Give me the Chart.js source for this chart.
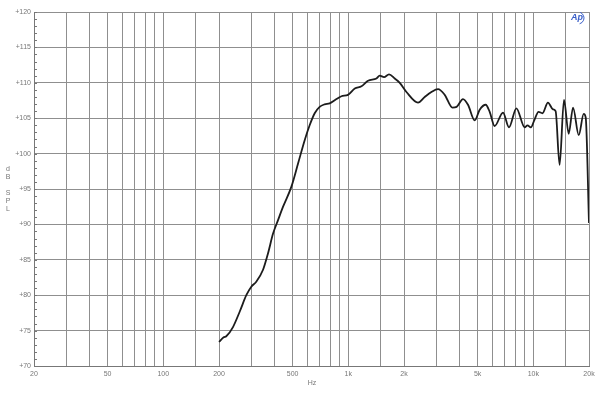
<!DOCTYPE html>
<html>
<head>
<meta charset="utf-8">
<script src="https://cdn.jsdelivr.net/npm/chart.js@4/dist/chart.umd.min.js"></script>
<style>
  body { margin: 0; background: #fff; }
  #wrap { width: 600px; height: 400px; }
</style>
</head>
<body>
<div id="wrap"><canvas id="splChart"></canvas></div>
<script>
// frequency response (Hz / dB SPL)
const freqs = [200, 212, 219, 238, 259, 281, 299, 318, 346, 368, 392, 417, 444, 492, 535, 581, 618, 658, 700, 745,
  793, 863, 918, 996, 1084, 1178, 1278, 1419, 1478, 1560, 1660, 1783, 1897, 2062, 2381, 2589, 2813, 3055, 3320,
  3655, 3850, 4168, 4436, 4822, 5130, 5530, 5810, 6180, 6860, 7390, 8100, 8980, 9300, 9700, 10120, 10670, 11200,
  12000, 12770, 13200, 13870, 14650, 15530, 16400, 17600, 18720, 19200, 20000];
const spl = [73.4, 74.05, 74.2, 75.5, 77.7, 80.0, 81.2, 81.9, 83.6, 85.9, 88.7, 90.6, 92.5, 95.3, 98.6, 101.9, 104.0, 105.7, 106.6, 106.96,
  107.1, 107.7, 108.1, 108.3, 109.2, 109.5, 110.3, 110.6, 111.0, 110.8, 111.2, 110.6, 110.0, 108.7, 107.2, 108.0, 108.7, 109.1, 108.3,
  106.5, 106.6, 107.7, 106.9, 104.7, 106.2, 106.9, 105.9, 103.9, 105.8, 103.7, 106.4, 103.7, 104.0, 103.7, 104.7, 105.9, 105.7,
  107.2, 106.25, 106.0, 98.4, 107.6, 102.8, 106.5, 102.6, 105.6, 105.1, 90.2];
const xLabels = [20, 50, 100, 200, 500, 1000, 2000, 5000, 10000, 20000];
const yTicks = [70, 75, 80, 85, 90, 95, 100, 105, 110, 115, 120];

const points = freqs.map((f, i) => ({ x: f, y: spl[i] }));

// extra text + minor ticks
const decor = {
  id: 'decor',
  afterDraw(chart) {
    const c = chart.ctx;
    const y = chart.scales.y;
    const area = chart.chartArea;
    c.save();
    c.strokeStyle = '#777';
    c.lineWidth = 1;
    for (let v = 70; v <= 120; v++) {
      const py = Math.round(y.getPixelForValue(v)) + 0.5;
      c.beginPath();
      c.moveTo(area.left, py);
      c.lineTo(area.left + 3, py);
      c.stroke();
    }
    c.fillStyle = '#777';
    c.font = '7px "Liberation Sans"';
    c.textAlign = 'center';
    c.textBaseline = 'middle';
    const letters = [['d', 169], ['B', 177], ['S', 193], ['P', 201], ['L', 209]];
    letters.forEach(([t, py]) => c.fillText(t, 8, py));
    c.fillText('Hz', 312, 383);
    // Ap logo
    c.fillStyle = '#3a5fc8';
    c.strokeStyle = '#3a5fc8';
    c.font = 'italic bold 9px "Liberation Sans"';
    c.fillText('Ap', 577, 18);
    c.beginPath();
    c.arc(578, 18, 6, -1.2, 1.3);
    c.stroke();
    c.restore();
  }
};

new Chart(document.getElementById('splChart'), {
  type: 'line',
  data: {
    datasets: [{
      data: points,
      borderColor: '#1c1c1c',
      borderWidth: 1.8,
      pointRadius: 0,
      cubicInterpolationMode: 'monotone',
      fill: false
    }]
  },
  options: {
    responsive: true,
    maintainAspectRatio: false,
    animation: false,
    layout: { padding: { top: 12, right: 11, left: 0, bottom: 0 } },
    plugins: { legend: { display: false }, tooltip: { enabled: false } },
    scales: {
      x: {
        type: 'logarithmic',
        min: 20,
        max: 20000,
        afterFit: s => { s.height = 34; },
        grid: { color: '#8f8f8f', lineWidth: 1, drawTicks: false },
        border: { color: '#777' },
        ticks: {
          autoSkip: false,
          maxRotation: 0,
          padding: 4,
          color: '#777',
          font: { family: 'Liberation Sans', size: 7 },
          callback: v => {
            if (!xLabels.includes(v)) return '';
            return v >= 1000 ? (v / 1000) + 'k' : String(v);
          }
        }
      },
      y: {
        min: 70,
        max: 120,
        afterFit: s => { s.width = 34; },
        afterBuildTicks: s => { s.ticks = yTicks.map(v => ({ value: v })); },
        grid: { color: '#8f8f8f', lineWidth: 1, drawTicks: false },
        border: { color: '#777' },
        ticks: {
          padding: 3,
          color: '#777',
          font: { family: 'Liberation Sans', size: 7 },
          callback: v => '+' + v
        }
      }
    }
  },
  plugins: [decor]
});
</script>
</body>
</html>
